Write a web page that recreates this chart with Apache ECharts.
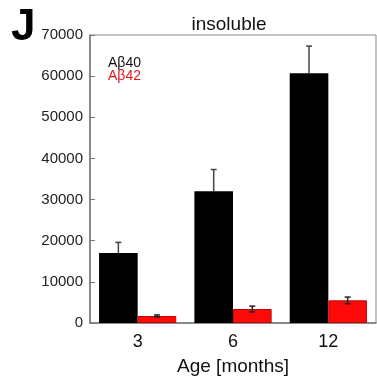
<!DOCTYPE html>
<html><head><meta charset="utf-8">
<script src="https://cdn.jsdelivr.net/npm/echarts@6/dist/echarts.min.js"></script>
<style>html,body{margin:0;padding:0;background:#fff}#c{width:377px;height:379px}</style>
</head><body><div id="c"></div>
<script>
const categories = ['3', '6', '12'];
const ab40 = [17000, 32000, 60700];
const ab40Err = [2600, 5300, 6600];
const ab42 = [1700, 3400, 5500];
const ab42Err = [250, 700, 800];
const yTicks = [0, 10000, 20000, 30000, 40000, 50000, 60000, 70000];

const chart = echarts.init(document.getElementById('c'));
const FONT = 'Liberation Sans, Arial, sans-serif';

function errRender(values, errs, side, upOnly, color) {
  return function (params, api) {
    const i = api.value(0);
    const v = values[i], e = errs[i];
    const band = api.size([1, 0])[0];
    const bw = band * (1 - 0.19) / 2;
    const base = api.coord([i, v]);
    const x = base[0] + side * bw / 2;
    const top = api.coord([i, v + e])[1];
    const bot = upOnly ? base[1] : api.coord([i, v - e])[1];
    const cap = 3;
    const style = { stroke: color, lineWidth: 1.5 };
    const children = [
      { type: 'line', shape: { x1: x, y1: top, x2: x, y2: bot }, style },
      { type: 'line', shape: { x1: x - cap, y1: top, x2: x + cap, y2: top }, style }
    ];
    if (!upOnly) children.push({ type: 'line', shape: { x1: x - cap, y1: bot, x2: x + cap, y2: bot }, style });
    return { type: 'group', children };
  };
}

chart.setOption({
  animation: false,
  title: {
    text: 'insoluble', left: 224, top: 10, textAlign: 'center',
    textStyle: { fontFamily: FONT, fontSize: 19, fontWeight: 'normal', color: '#111' }
  },
  graphic: [
    { type: 'text', left: 11, top: 6, style: { text: 'J', font: 'bold 44px ' + FONT, fill: '#000' } },
    { type: 'text', left: 108, top: 56, style: { text: 'Aβ40', font: '14px ' + FONT, fill: '#111' } },
    { type: 'text', left: 108, top: 69, style: { text: 'Aβ42', font: '14px ' + FONT, fill: '#e8141c' } }
  ],
  grid: { left: 90, right: 1, top: 35, bottom: 56, show: true, borderColor: '#888', borderWidth: 1,
    containLabel: false, outerBoundsMode: 'none' },
  xAxis: {
    type: 'category', data: categories,
    axisLine: { lineStyle: { color: '#777', width: 1.5 } },
    axisTick: { inside: true, length: 5, lineStyle: { color: '#777' } },
    axisLabel: { fontFamily: FONT, fontSize: 18, color: '#111', margin: 10 },
    name: 'Age [months]', nameLocation: 'middle', nameGap: 34,
    nameTextStyle: { fontFamily: FONT, fontSize: 19, color: '#111' }
  },
  yAxis: {
    type: 'value', min: 0, max: 70000, interval: 10000,
    splitLine: { show: false },
    axisLine: { show: true, lineStyle: { color: '#777', width: 1.5 } },
    axisTick: { show: true, inside: true, length: 5, lineStyle: { color: '#777' } },
    axisLabel: { fontFamily: FONT, fontSize: 15, color: '#222', margin: 7,
      formatter: v => yTicks.includes(v) ? String(v) : '' }
  },
  series: [
    { type: 'bar', data: ab40, barGap: 0, barCategoryGap: '19%', itemStyle: { color: '#000' } },
    { type: 'bar', data: ab42, barGap: 0, barCategoryGap: '19%',
      itemStyle: { color: '#ff0a0a', borderColor: '#c40000', borderWidth: 1 } },
    { type: 'custom', data: categories.map((c, i) => [i]), renderItem: errRender(ab40, ab40Err, -1, true, '#444'), z: 5 },
    { type: 'custom', data: categories.map((c, i) => [i]), renderItem: errRender(ab42, ab42Err, 1, false, '#222'), z: 5 }
  ]
});
</script></body></html>
